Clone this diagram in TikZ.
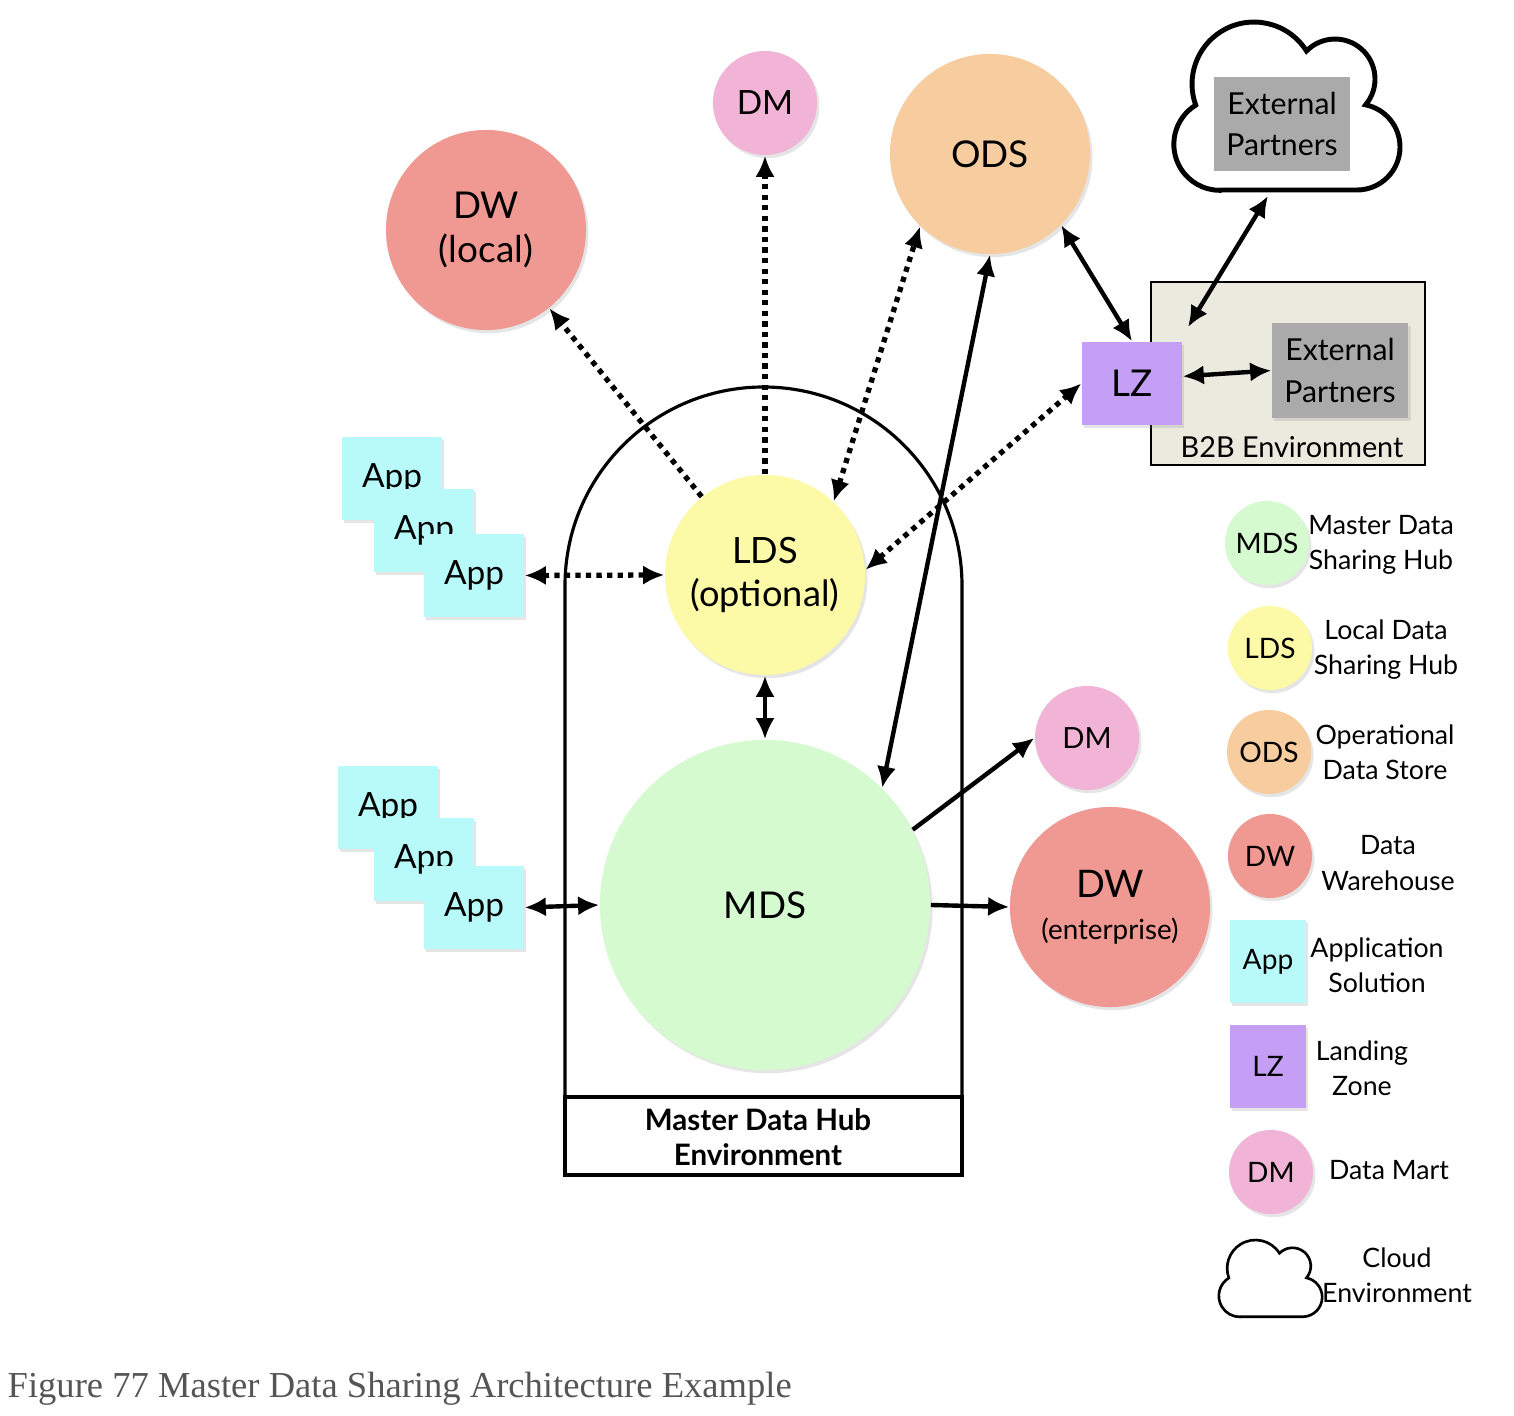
\documentclass[tikz,border=0pt]{standalone}
\usepackage{fontspec}
\setmainfont{Lato}
\newfontfamily\capfont{Liberation Serif}
\usetikzlibrary{arrows.meta,shadows}
\definecolor{cDW}{HTML}{F09892}
\definecolor{cDM}{HTML}{F2B4D6}
\definecolor{cODS}{HTML}{F7CDA0}
\definecolor{cLDS}{HTML}{FCFAA6}
\definecolor{cMDS}{HTML}{D5FAD0}
\definecolor{cApp}{HTML}{B8FAFA}
\definecolor{cLZ}{HTML}{C59EF5}
\definecolor{cEP}{HTML}{AAAAAA}
\definecolor{cBtoB}{HTML}{EAEADF}
\definecolor{cCap}{HTML}{555555}
\newcommand\fsz[2]{\fontsize{#1pt}{#2pt}\selectfont}
\newcommand\cloudpath{(48,-168) -- (185,-168) arc[start angle=-90,end angle=78.5,radius=43] arc[start angle=-40.2,end angle=135.5,radius=40] arc[start angle=32.2,end angle=199.9,radius=62] arc[start angle=121.6,end angle=270,radius=46] -- cycle}
\begin{document}
\begin{tikzpicture}[x=0.01cm,y=0.01cm,
  >={Latex[length=6pt,width=5.5pt]},
  shad/.style={drop shadow={shadow xshift=0.7pt,shadow yshift=-0.9pt,opacity=0.2}},
  bub/.style={circle,inner sep=0pt,align=center,shad},
  box/.style={rectangle,inner sep=0pt,align=center,shad},
  appbox/.style={box,fill=cApp,minimum width=1cm,minimum height=0.83cm,font={\fsz{9.5}{11}}},
  legbub/.style={bub,minimum size=0.84cm,font={\fsz{8}{9}}},
  legtxt/.style={align=center,inner sep=0pt,font={\fsz{7.6}{10}}},
  conn/.style={line width=1.25pt},
  dots/.style={line width=1.5pt,dash pattern=on 1.5pt off 1.5pt},
]
\useasboundingbox[fill=white] (0,0) rectangle (1514,-1416);

% Master data hub environment
\draw[line width=0.9pt] (565,-1097) -- (565,-585.5) arc[start angle=180,end angle=0,radius=198.5] -- (962,-1097);
\draw[line width=0.9pt] (565,-1097) rectangle (962,-1175);
\node[font={\bfseries\fsz{8.4}{10}},align=center] (hublbl) at (758,-1137) {Master Data Hub\\Environment};

% cloud top right
\begin{scope}[shift={(1172,-22)}]
\draw[line width=1.4pt,fill=white] \cloudpath;
\end{scope}
\node[rectangle,fill=cEP,minimum width=1.36cm,minimum height=0.94cm,inner sep=0pt,align=center,font={\fsz{8.6}{11.7}}] (ep1) at (1282,-124) {External\\Partners};

% B2B environment
\node[draw,line width=0.5pt,fill=cBtoB,minimum width=2.74cm,minimum height=1.83cm,inner sep=0pt] (b2b) at (1288,-373.5) {};
\node[box,fill=cEP,minimum width=1.36cm,minimum height=0.95cm,font={\fsz{8.6}{11.7}}] (ep2) at (1340,-370.5) {External\\Partners};
\node[inner sep=0pt,font={\fsz{8.2}{10}}] (b2blbl) at (1292,-447) {B2B Environment};
\node[box,fill=cLZ,minimum width=1cm,minimum height=0.83cm,font={\fsz{10.5}{12}}] (lz) at (1132,-383.5) {LZ};

% main circles
\node[bub,fill=cDW,minimum size=2cm,font={\fsz{10.5}{12.3}}] (dwl) at (486,-230) {DW\\(local)};
\node[bub,fill=cDM,minimum size=1.04cm,font={\fsz{9.5}{11}}] (dmt) at (765,-103) {DM};
\node[bub,fill=cODS,minimum size=2cm,font={\fsz{10.5}{12}}] (ods) at (990,-154) {ODS};
\node[bub,fill=cLDS,minimum size=2cm,font={\fsz{10.3}{12.5}}] (lds) at (765,-575) {LDS\\(optional)};
\node[bub,fill=cMDS,minimum size=3.3cm,font={\fsz{10.5}{12}}] (mds) at (765,-905) {MDS};
\node[bub,fill=cDM,minimum size=1.04cm,font={\fsz{8.3}{10}}] (dmr) at (1087,-738) {DM};
\node[bub,fill=cDW,minimum size=2cm] (dwe) at (1110,-907) {\fsz{10.8}{10}DW\\\fsz{7.9}{10}(enterprise)};

% application stacks
\node[appbox] (a1) at (392,-478.5) {App};
\node[appbox] (a2) at (424,-530.5) {App};
\node[appbox] (a3) at (474,-575.5) {App};
\node[appbox] (b1) at (388,-807.5) {App};
\node[appbox] (b2) at (424,-859.5) {App};
\node[appbox] (b3) at (474,-907.5) {App};

% connectors
\draw[dots,->] (lds) -- (dwl);
\draw[dots,->] (lds) -- (dmt);
\draw[dots,<->] (lds.47) -- (ods.226);
\draw[dots,<->] (lds.3) -- (lz.west);
\draw[dots,<->] (a3.east) -- (lds.west);
\draw[conn,<->] (lds) -- (mds);
\draw[conn,<->] (ods.south) -- (mds.45);
\draw[conn,<->] (ods.-45) -- (lz.north);
\coordinate (cldb) at (1268,-196);
\coordinate (b2bin) at (1188,-327);
\draw[conn,<->] (cldb) -- (b2bin);
\draw[conn,<->] (lz.8) -- (ep2.west);
\draw[conn,<->] (b3.east) -- (mds.west);
\draw[conn,->] (mds.27) -- (dmr.west);
\draw[conn,->] (mds.east) -- (dwe.west);

% legend
\node[legbub,fill=cMDS] (lmds) at (1267,-543) {MDS};
\node[legtxt] (tmds) at (1381,-545) {Master Data\\Sharing Hub};
\node[legbub,fill=cLDS] (llds) at (1270,-648) {LDS};
\node[legtxt] (tlds) at (1386,-650) {Local Data\\Sharing Hub};
\node[legbub,fill=cODS] (lods) at (1269,-752) {ODS};
\node[legtxt] (tods) at (1385,-752) {Operational\\Data Store};
\node[legbub,fill=cDW] (ldw) at (1270,-856) {DW};
\node[legtxt] (tdw) at (1388,-863) {Data\\Warehouse};
\node[box,fill=cApp,minimum width=0.76cm,minimum height=0.83cm,font={\fsz{8}{9}}] (lapp) at (1268,-961.5) {App};
\node[legtxt] (tapp) at (1377,-965) {Application\\Solution};
\node[box,fill=cLZ,minimum width=0.76cm,minimum height=0.83cm,font={\fsz{8}{9}}] (llz) at (1268,-1066.5) {LZ};
\node[legtxt] (tlz) at (1362,-1068) {Landing\\Zone};
\node[legbub,fill=cDM] (ldm) at (1271,-1172) {DM};
\node[legtxt] (tdm) at (1389,-1170) {Data Mart};
\begin{scope}[shift={(1218,-1240)},scale=0.457]
\draw[line width=0.75pt,fill=white] \cloudpath;
\end{scope}
\node[legtxt] (tcld) at (1397,-1275) {Cloud\\Environment};

% caption
\node[anchor=west,inner sep=0pt,font={\capfont\fsz{10.4}{12}},text=cCap] (cap) at (7,-1389) {Figure 77 Master Data Sharing Architecture Example};
\end{tikzpicture}
\end{document}
